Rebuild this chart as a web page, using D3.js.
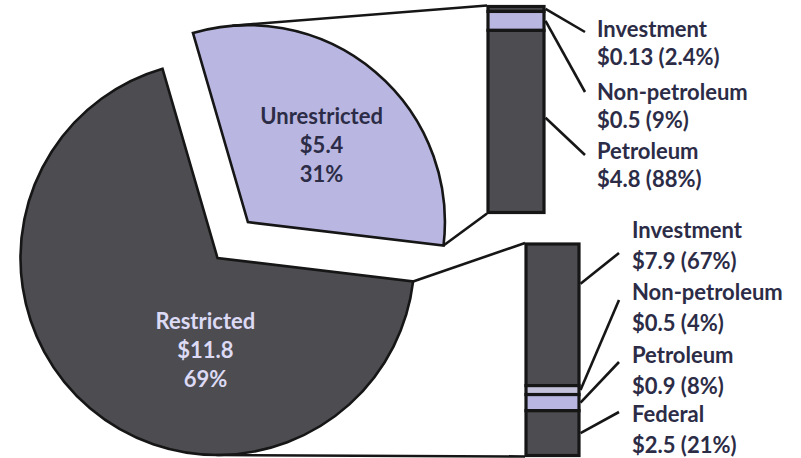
<!DOCTYPE html>
<html>
<head>
<meta charset="utf-8">
<script src="https://cdn.jsdelivr.net/npm/d3@7"></script>
<style>
  html, body { margin: 0; padding: 0; background: #ffffff; }
  svg { display: block; }
  text { font-family: Lato, "Open Sans", sans-serif; font-weight: 700; }
</style>
</head>
<body>
<svg id="chart" width="801" height="458"></svg>
<script>
// ---- data ----
const pieCategories = ["Unrestricted", "Restricted"];
const pieValues = [5.4, 11.8];
const piePercents = ["31%", "69%"];

const unrestrictedCategories = ["Investment", "Non-petroleum", "Petroleum"];
const unrestrictedValues = [0.13, 0.5, 4.8];
const unrestrictedLabels = ["$0.13 (2.4%)", "$0.5 (9%)", "$4.8 (88%)"];

const restrictedCategories = ["Investment", "Non-petroleum", "Petroleum", "Federal"];
const restrictedValues = [7.9, 0.5, 0.9, 2.5];
const restrictedLabels = ["$7.9 (67%)", "$0.5 (4%)", "$0.9 (8%)", "$2.5 (21%)"];

// ---- styles ----
const DARK = "#4d4c51";
const LAVENDER = "#b9b7e1";
const LINE = "#161616";
const TEXT_DARK = "#2c2c47";
const TEXT_LIGHT = "#dcdaf4";
const FONT_SIZE = "22px";

const svg = d3.select("#chart");
const deg = Math.PI / 180;

// ---- pie ----
const center = [217.5, 258];
const radius = 197;
const explode = 47;
const startAngle = -16.2 * deg;

const pie = d3.pie().sort(null).startAngle(startAngle).endAngle(startAngle + 2 * Math.PI);
const slices = pie(pieValues);
const arc = d3.arc().innerRadius(0).outerRadius(radius);

const sliceFill = [LAVENDER, DARK];
const sliceText = [TEXT_DARK, TEXT_LIGHT];
const sliceExplode = [explode, 0];
// label anchor (middle line) in polar coordinates from each slice's apex
const sliceLabelPolar = [[44.6, 105], [187.3, 95]];

function polar(c, ang, r) {
  return [c[0] + r * Math.sin(ang), c[1] - r * Math.cos(ang)];
}

const sliceCenters = slices.map((s, i) => {
  const mid = (s.startAngle + s.endAngle) / 2;
  return polar(center, mid, sliceExplode[i]);
});

const pieG = svg.append("g");
slices.forEach((s, i) => {
  pieG.append("path")
    .attr("transform", `translate(${sliceCenters[i][0]},${sliceCenters[i][1]})`)
    .attr("d", arc(s))
    .attr("fill", sliceFill[i])
    .attr("stroke", LINE)
    .attr("stroke-width", 2.6)
    .attr("stroke-linejoin", "miter");
});

// ---- stacked bars ----
const barFillTop = [DARK, LAVENDER, DARK];
const barFillBottom = [DARK, "#c4c2da", LAVENDER, DARK];

const bars = [
  {
    values: unrestrictedValues, cats: unrestrictedCategories, labels: unrestrictedLabels,
    fills: barFillTop, x0: 488, x1: 544, y0: 6.5, y1: 212.5,
    textX: 597, firstBaselines: [37, 100, 159], lineGap: 28,
    leaderEndX: 585, leaderEndY: [32, 92, 155], leaderFrac: [0.5, 0.5, 0.48]
  },
  {
    values: restrictedValues, cats: restrictedCategories, labels: restrictedLabels,
    fills: barFillBottom, x0: 526, x1: 579, y0: 244, y1: 455.5,
    textX: 632, firstBaselines: [238, 300, 363, 422], lineGap: 30.5,
    leaderEndX: 619, leaderEndY: [253, 300, 362, 412], leaderFrac: [0.28, 0.5, 0.5, 0.5]
  }
];

const barG = svg.append("g");
bars.forEach(b => {
  const total = d3.sum(b.values);
  const y = d3.scaleLinear().domain([0, total]).range([b.y0, b.y1]);
  const cum = d3.cumsum(b.values);
  const segs = b.values.map((v, i) => ({ v, a: cum[i] - v, b: cum[i] }));

  barG.selectAll(null).data(segs).enter().append("rect")
    .attr("x", b.x0)
    .attr("width", b.x1 - b.x0)
    .attr("y", d => y(d.a))
    .attr("height", d => y(d.b) - y(d.a))
    .attr("fill", (d, i) => b.fills[i])
    .attr("stroke", LINE)
    .attr("stroke-width", 3.2);

  // leader lines
  barG.selectAll(null).data(segs).enter().append("line")
    .attr("x1", b.x1 + 1.5)
    .attr("y1", (d, i) => y(d.a) + (y(d.b) - y(d.a)) * b.leaderFrac[i])
    .attr("x2", b.leaderEndX)
    .attr("y2", (d, i) => b.leaderEndY[i])
    .attr("stroke", LINE)
    .attr("stroke-width", 2.6);

  // labels
  b.cats.forEach((c, i) => {
    const t = barG.append("text")
      .attr("x", b.textX)
      .attr("y", b.firstBaselines[i])
      .attr("fill", TEXT_DARK)
      .style("font-size", FONT_SIZE);
    t.append("tspan").attr("x", b.textX).text(c);
    t.append("tspan").attr("x", b.textX).attr("dy", b.lineGap).text(b.labels[i]);
  });
});

// ---- connector lines between pie slices and bars ----
function tangentPoint(c, r, p, side) {
  const dx = p[0] - c[0], dy = p[1] - c[1];
  const d = Math.hypot(dx, dy);
  const dir = Math.atan2(dx, -dy);
  const a = dir + side * Math.acos(r / d);
  return polar(c, a, r);
}

const connG = svg.append("g");
const [uSlice, rSlice] = slices;
const uC = sliceCenters[0], rC = sliceCenters[1];
const topBar = bars[0], botBar = bars[1];

const connectors = [
  [tangentPoint(uC, radius, [topBar.x0 - 1, topBar.y0 - 1], -1), [topBar.x0 - 1, topBar.y0 - 1]],
  [polar(uC, uSlice.endAngle, radius), [topBar.x0 - 1, topBar.y1 + 1]],
  [polar(rC, rSlice.startAngle, radius), [botBar.x0 - 1, botBar.y0 - 1]],
  [tangentPoint(rC, radius, [botBar.x0 - 1, botBar.y1 + 1], 1), [botBar.x0 - 1, botBar.y1 + 1]]
];
connG.selectAll(null).data(connectors).enter().append("line")
  .attr("x1", d => d[0][0]).attr("y1", d => d[0][1])
  .attr("x2", d => d[1][0]).attr("y2", d => d[1][1])
  .attr("stroke", LINE)
  .attr("stroke-width", 2.6);

// ---- slice labels ----
slices.forEach((s, i) => {
  const pos = polar(sliceCenters[i], sliceLabelPolar[i][0] * deg, sliceLabelPolar[i][1]);
  const t = svg.append("text")
    .attr("text-anchor", "middle")
    .attr("fill", sliceText[i])
    .style("font-size", FONT_SIZE)
    .attr("x", pos[0])
    .attr("y", pos[1] + 6);
  t.append("tspan").attr("x", pos[0]).attr("dy", -29.5).text(pieCategories[i]);
  t.append("tspan").attr("x", pos[0]).attr("dy", 29.5).text("$" + pieValues[i]);
  t.append("tspan").attr("x", pos[0]).attr("dy", 29).text(piePercents[i]);
});
</script>
</body>
</html>
